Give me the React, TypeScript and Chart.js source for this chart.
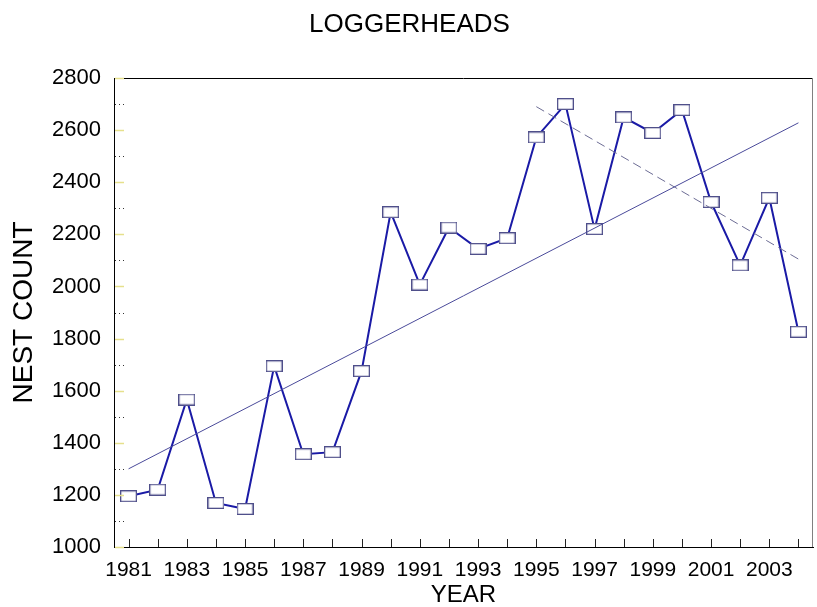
import React, { useEffect, useRef } from "react";
import { Chart, registerables } from "chart.js";

Chart.register(...registerables);

const years = [1981, 1982, 1983, 1984, 1985, 1986, 1987, 1988, 1989, 1990, 1991, 1992, 1993, 1994, 1995, 1996, 1997, 1998, 1999, 2000, 2001, 2002, 2003, 2004];
const nestCounts = [1195, 1220, 1566, 1169, 1146, 1694, 1356, 1364, 1675, 2285, 2007, 2226, 2144, 2185, 2572, 2700, 2220, 2649, 2589, 2677, 2324, 2081, 2340, 1826];
const trendYears = [1981, 2004];
const trendValues = [1300, 2628];
const recentTrendYears = [1995, 2004];
const recentTrendValues = [2690, 2105];
const yMajorTicks = [1000, 1200, 1400, 1600, 1800, 2000, 2200, 2400, 2600, 2800];
const yMinorTicks = [1100, 1300, 1500, 1700, 1900, 2100, 2300, 2500, 2700];

const FONT = "'Liberation Sans', Arial, sans-serif";

function makeMarker(): HTMLCanvasElement {
  const c = document.createElement("canvas");
  c.width = 17;
  c.height = 12;
  const ctx = c.getContext("2d")!;
  ctx.fillStyle = "#ffffff";
  ctx.fillRect(0, 0, 17, 12);
  ctx.strokeStyle = "#4f4f8a";
  ctx.lineWidth = 1.3;
  ctx.strokeRect(0.65, 0.65, 15.7, 10.7);
  return c;
}

const framePlugin = {
  id: "frame",
  afterDatasetsDraw(chart: any) {
    const { ctx, chartArea, scales } = chart;
    const { left, right, top, bottom } = chartArea;
    ctx.save();
    ctx.strokeStyle = "#000000";
    ctx.lineWidth = 1;
    ctx.beginPath();
    ctx.moveTo(left, top + 0.5);
    ctx.lineTo(right, top + 0.5);
    ctx.stroke();
    ctx.strokeStyle = "#808080";
    ctx.beginPath();
    ctx.moveTo(right - 0.5, top);
    ctx.lineTo(right - 0.5, bottom);
    ctx.stroke();
    ctx.strokeStyle = "#222222";
    years.forEach((yr) => {
      const x = Math.round(scales.x.getPixelForValue(yr)) + 0.5;
      ctx.beginPath();
      ctx.moveTo(x, bottom);
      ctx.lineTo(x, bottom - 8);
      ctx.stroke();
    });
    ctx.strokeStyle = "#e6e08c";
    ctx.lineWidth = 1.5;
    yMajorTicks.forEach((v) => {
      const y = Math.round(scales.y.getPixelForValue(v)) + 0.5;
      ctx.beginPath();
      ctx.moveTo(left + 1, y);
      ctx.lineTo(left + 10, y);
      ctx.stroke();
    });
    ctx.strokeStyle = "#333333";
    ctx.lineWidth = 1;
    ctx.setLineDash([1, 3]);
    yMinorTicks.forEach((v) => {
      const y = Math.round(scales.y.getPixelForValue(v)) + 0.5;
      ctx.beginPath();
      ctx.moveTo(left + 1, y);
      ctx.lineTo(left + 11, y);
      ctx.stroke();
    });
    ctx.restore();
  },
};

export default function App() {
  const ref = useRef<HTMLCanvasElement | null>(null);

  useEffect(() => {
    document.body.style.margin = "0";
    const marker = makeMarker();
    const chart = new Chart(ref.current!, {
      type: "scatter",
      data: {
        datasets: [
          {
            label: "Nest count",
            data: years.map((x, i) => ({ x, y: nestCounts[i] })),
            showLine: true,
            borderColor: "#1a1aa6",
            borderWidth: 2,
            pointStyle: marker as any,
            pointRadius: 8,
            order: 1,
          },
          {
            label: "Trend",
            data: trendYears.map((x, i) => ({ x, y: trendValues[i] })),
            showLine: true,
            borderColor: "#4a4a9a",
            borderWidth: 1,
            pointRadius: 0,
            order: 0,
          },
          {
            label: "Recent trend",
            data: recentTrendYears.map((x, i) => ({ x, y: recentTrendValues[i] })),
            showLine: true,
            borderColor: "#6c6c94",
            borderWidth: 1,
            borderDash: [9, 5],
            pointRadius: 0,
            order: 0,
          },
        ],
      },
      options: {
        responsive: false,
        animation: false,
        devicePixelRatio: 1,
        layout: { padding: { left: 0, right: 4, top: 0, bottom: 0 } },
        plugins: {
          legend: { display: false },
          tooltip: { enabled: false },
          title: {
            display: true,
            text: "LOGGERHEADS",
            color: "#000000",
            font: { family: FONT, size: 26, weight: "normal", lineHeight: 1.2 },
            padding: { top: 9, bottom: 37.8 },
          },
        },
        scales: {
          x: {
            type: "linear",
            min: 1980.5,
            max: 2004.5,
            afterBuildTicks: (scale: any) => {
              scale.ticks = years.map((v) => ({ value: v }));
            },
            afterFit: (scale: any) => {
              scale.height = 60;
            },
            grid: { display: false, drawTicks: false },
            border: { display: true, color: "#000000", width: 1 },
            ticks: {
              autoSkip: false,
              maxRotation: 0,
              padding: 11,
              color: "#000000",
              font: { family: FONT, size: 21 },
              callback: (v: any) => (Number(v) % 2 === 1 ? String(v) : ""),
            },
            title: {
              display: true,
              text: "YEAR",
              color: "#000000",
              font: { family: FONT, size: 24, lineHeight: 1 },
              padding: { top: 0, bottom: 0 },
            },
          },
          y: {
            type: "linear",
            min: 1000,
            max: 2800,
            afterBuildTicks: (scale: any) => {
              scale.ticks = yMajorTicks.map((v) => ({ value: v }));
            },
            afterFit: (scale: any) => {
              scale.width = 114;
            },
            grid: { display: false, drawTicks: false },
            border: { display: true, color: "#000000", width: 1 },
            ticks: {
              padding: 13,
              color: "#000000",
              font: { family: FONT, size: 22 },
              callback: (v: any) => String(v),
            },
            title: {
              display: true,
              text: "NEST COUNT",
              color: "#000000",
              font: { family: FONT, size: 28, lineHeight: 1 },
              padding: { top: 10, bottom: 0 },
            },
          },
        },
      },
      plugins: [framePlugin],
    });
    return () => chart.destroy();
  }, []);

  return (
    <div style={{ position: "absolute", left: 0, top: 0, width: 817, height: 607, overflow: "hidden" }}>
      <canvas ref={ref} width={823} height={607} />
    </div>
  );
}
